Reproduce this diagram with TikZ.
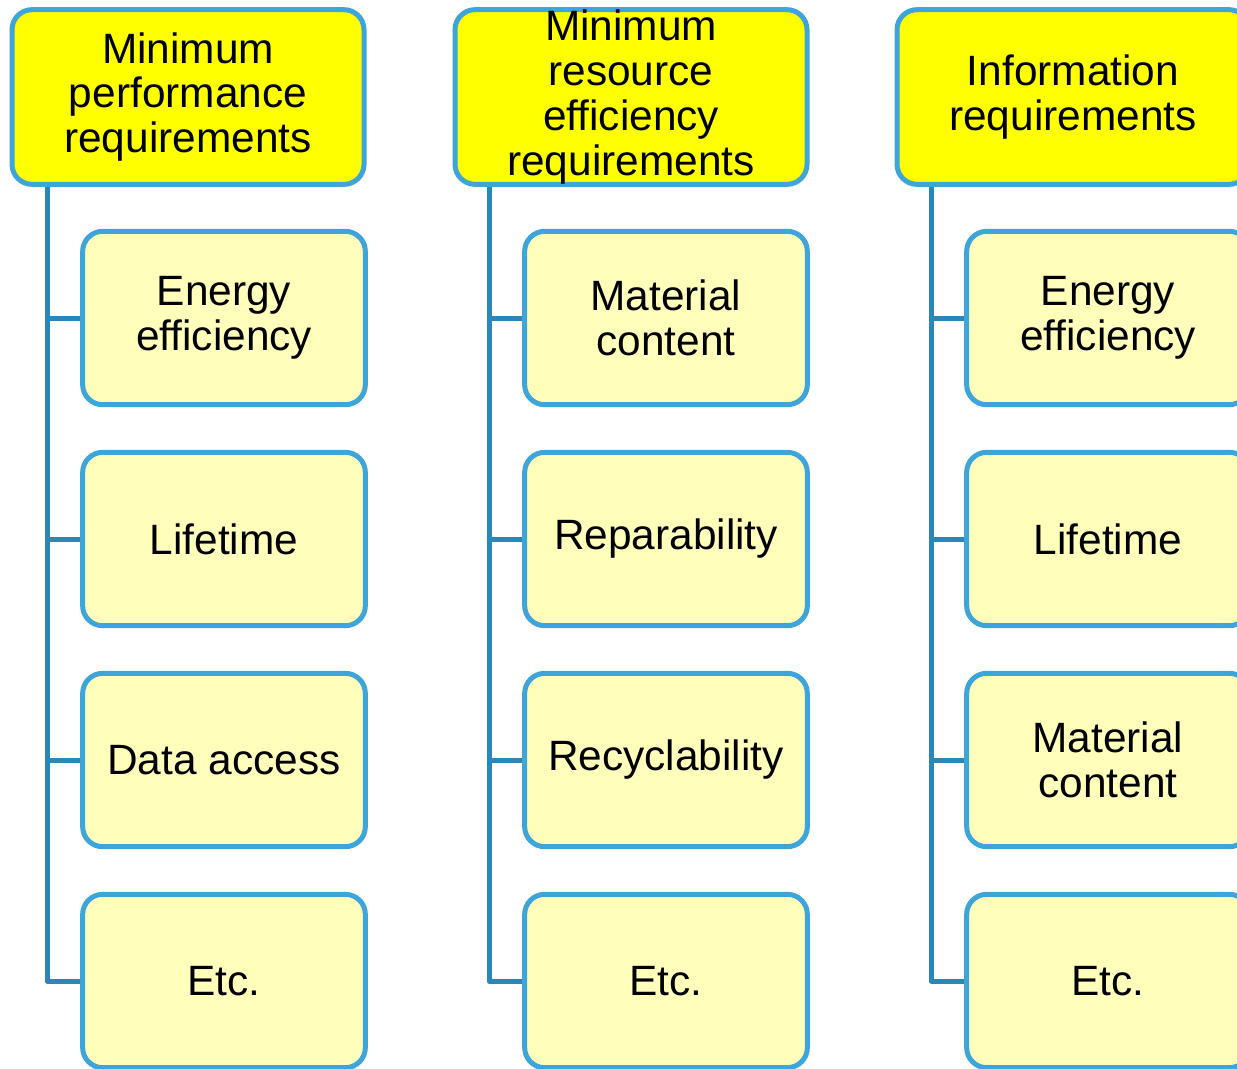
\documentclass[tikz,border=0pt]{standalone}
\usepackage{fontspec}
\setmainfont{Liberation Sans}
\usetikzlibrary{backgrounds}

\definecolor{boxblue}{HTML}{3DA5D9}
\definecolor{linkblue}{HTML}{2B87BA}
\definecolor{headyellow}{HTML}{FFFF00}
\definecolor{paleyellow}{HTML}{FFFFBB}

\tikzset{
  head/.style={draw=boxblue, line width=3.75pt, fill=headyellow, rounded corners=15pt,
    minimum width=264pt, minimum height=131pt, inner sep=0pt, align=center,
    font=\fontsize{31.8}{33.6}\selectfont},
  item/.style={draw=boxblue, line width=3.75pt, fill=paleyellow, rounded corners=15pt,
    minimum width=212pt, minimum height=130pt, inner sep=0pt, align=center,
    font=\fontsize{31.8}{33.6}\selectfont},
  link/.style={draw=linkblue, line width=3.75pt, line join=round}
}

\begin{document}
\begin{tikzpicture}[x=0.75pt,y=-0.75pt]
      \useasboundingbox (0,0) rectangle (1237,1068);
      \clip (0,0) rectangle (1237,1068);
      % Column headers
      \node[head] (h1) at (188,97)  {Minimum\\performance\\requirements};
      \node[head] (h2) at (631,97)  {Minimum\\resource\\efficiency\\requirements};
      \node[head] (h3) at (1073,97) {Information\\requirements};

      % Performance items
      \node[item] (c11) at (224,318) {Energy\\efficiency};
      \node[item] (c12) at (224,539) {Lifetime};
      \node[item] (c13) at (224,760) {Data access};
      \node[item] (c14) at (224,981) {Etc.};

      % Resource efficiency items
      \node[item] (c21) at (666,318) {Material\\content};
      \node[item] (c22) at (666,539) {Reparability};
      \node[item] (c23) at (666,760) {Recyclability};
      \node[item] (c24) at (666,981) {Etc.};

      % Information items
      \node[item] (c31) at (1108,318) {Energy\\efficiency};
      \node[item] (c32) at (1108,539) {Lifetime};
      \node[item] (c33) at (1108,760) {Material\\content};
      \node[item] (c34) at (1108,981) {Etc.};

      % Trunks and branches behind the boxes
      \begin{scope}[on background layer]
        \foreach \i/\x in {1/47,2/489,3/931} {
          \coordinate (t\i) at (\x,180);
          \draw[link] (t\i) |- (c\i4.west);
          \foreach \j in {1,2,3}
            \draw[link] (t\i |- c\i\j.west) -- (c\i\j.west);
        }
      \end{scope}
    \end{tikzpicture}
\end{document}
